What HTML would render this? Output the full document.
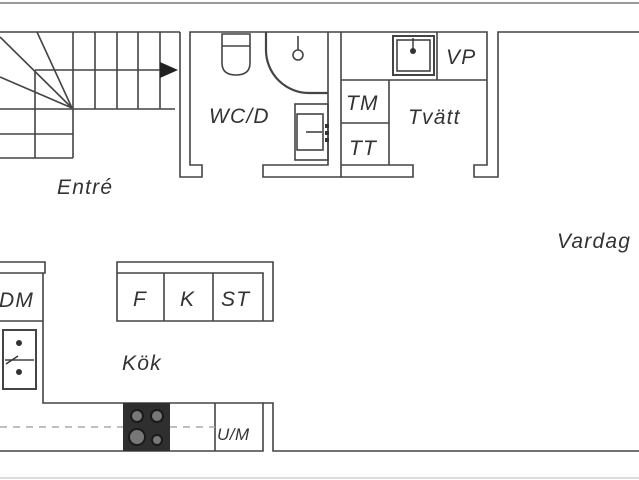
<!DOCTYPE html>
<html><head><meta charset="utf-8"><style>
html,body{margin:0;padding:0;background:#fff;width:639px;height:480px;overflow:hidden}
svg{display:block}
text{font-family:"Liberation Sans","DejaVu Sans",sans-serif;font-style:italic;fill:#333;font-size:21px;letter-spacing:1.2px}
</style></head><body>
<svg width="639" height="480" viewBox="0 0 639 480" xmlns="http://www.w3.org/2000/svg">
<g stroke="#999" stroke-width="2" fill="none">
<line x1="0" y1="3" x2="639" y2="3"/>
<line x1="0" y1="478" x2="639" y2="478" stroke="#ddd"/>
</g>
<g stroke="#444" stroke-width="1.6" fill="none">
<line x1="0" y1="32" x2="180" y2="32"/>
<line x1="73" y1="32" x2="73" y2="158"/>
<line x1="95" y1="32" x2="95" y2="109"/>
<line x1="117" y1="32" x2="117" y2="109"/>
<line x1="138" y1="32" x2="138" y2="109"/>
<line x1="160" y1="32" x2="160" y2="109"/>
<line x1="35" y1="70" x2="165" y2="70"/>
<line x1="0" y1="109" x2="175" y2="109"/>
<line x1="35" y1="70" x2="35" y2="158"/>
<line x1="0" y1="134" x2="73" y2="134"/>
<line x1="0" y1="158" x2="73" y2="158"/>
<line x1="72" y1="108" x2="0" y2="37"/>
<line x1="72" y1="108" x2="37" y2="32"/>
<line x1="72" y1="108" x2="0" y2="77"/>
<path d="M180 32 V177 H202 V165 H190 V32 H328 V165 H263 V177 H341 V165 M328 32 H341"/>
<line x1="341" y1="32" x2="341" y2="165"/>
<path d="M341 32 H487 V165 H474 V177 H498 V32 H639"/>
<path d="M341 165 H413 V177 H341"/>
<line x1="341" y1="80" x2="487" y2="80"/>
<line x1="389" y1="80" x2="389" y2="165"/>
<line x1="341" y1="123" x2="389" y2="123"/>
<line x1="437" y1="32" x2="437" y2="80"/>
<rect x="393" y="36" width="41" height="39" stroke-width="2"/>
<rect x="397" y="40" width="33" height="31"/>
<path d="M222 34 V63 Q222 75 236 75 Q250 75 250 63 V34 Z"/>
<line x1="222" y1="46" x2="250" y2="46"/>
<path d="M266 32 V50 A43 43 0 0 0 309 93 H328" stroke-width="2.2"/>
<circle cx="298" cy="55" r="5"/>
<line x1="298" y1="36" x2="298" y2="50"/>
<rect x="295" y="104" width="33" height="56"/>
<rect x="297" y="114" width="26" height="36"/>
<line x1="306" y1="132" x2="322" y2="132"/>
<path d="M0 262 H45 V273 H0 M43 273 V403 H263 V451 H0 M0 321 H43"/>
<rect x="3" y="330" width="33" height="59" stroke-width="2"/>
<line x1="5" y1="360" x2="34" y2="360"/>
<path d="M117 262 H273 V321 H117 Z M117 273 H263 V321 M164 273 V321 M213 273 V321"/>
<path d="M263 403 H273 V451 H639"/>
<line x1="215" y1="403" x2="215" y2="451"/>
<line x1="0" y1="427" x2="123" y2="427" stroke="#aaa" stroke-dasharray="7,6"/>
<line x1="170" y1="427" x2="215" y2="427" stroke="#aaa" stroke-dasharray="7,6"/>
</g>
<polygon points="160,62 178,70 160,78" fill="#222"/>
<g fill="#333">
<circle cx="413" cy="51" r="3"/>
<circle cx="19" cy="343" r="3"/><circle cx="19" cy="372" r="3"/>
<rect x="325" y="124" width="4" height="4"/><rect x="325" y="131" width="4" height="4"/><rect x="325" y="138" width="4" height="4"/>
</g>
<line x1="413" y1="38" x2="413" y2="50" stroke="#333" stroke-width="1.4"/>
<line x1="6" y1="364" x2="18" y2="356" stroke="#333" stroke-width="1.4"/>
<rect x="123" y="403" width="47" height="48" fill="#2f2f2f"/>
<g fill="#777" stroke="#1a1a1a" stroke-width="2">
<circle cx="137" cy="416" r="6"/><circle cx="157" cy="416" r="6"/>
<circle cx="137" cy="437" r="8"/><circle cx="157" cy="440" r="5"/>
</g>
<text x="57" y="194">Entré</text>
<text x="209" y="123">WC/D</text>
<text x="346" y="110">TM</text>
<text x="349" y="155">TT</text>
<text x="408" y="124">Tvätt</text>
<text x="446" y="64">VP</text>
<text x="557" y="248">Vardag</text>
<text x="-1" y="307">DM</text>
<text x="133" y="306">F</text>
<text x="180" y="306">K</text>
<text x="221" y="306">ST</text>
<text x="122" y="370">Kök</text>
<text x="217" y="440" style="font-size:17px;letter-spacing:0.5px">U/M</text>
</svg>
</body></html>
